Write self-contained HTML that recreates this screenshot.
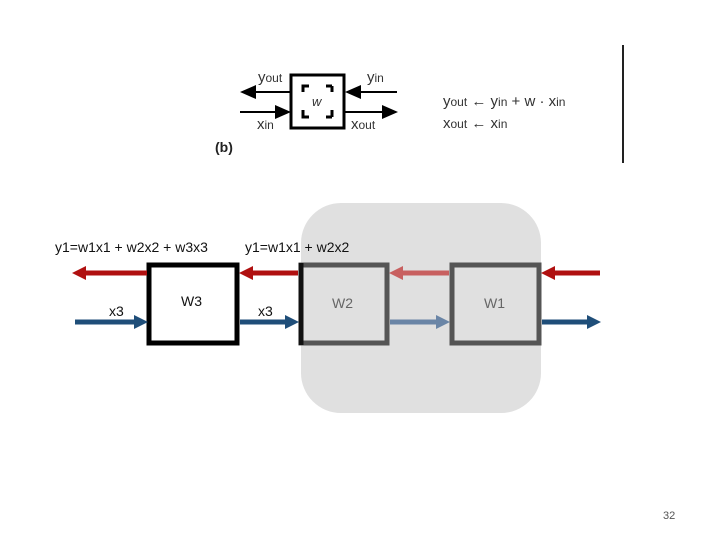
<!DOCTYPE html>
<html><head><style>
body{margin:0;width:720px;height:540px;background:#fff;overflow:hidden;font-family:"Liberation Sans",sans-serif}
</style></head><body>
<svg width="720" height="540" viewBox="0 0 720 540" xmlns="http://www.w3.org/2000/svg" font-family="Liberation Sans, sans-serif">
<!-- top figure -->
<rect x="291" y="75" width="53" height="53" fill="#fff" stroke="#000" stroke-width="3"/>
<path d="M303,92 v-6 h6 M332,86 h-6 M332,86 v6 M303,110 v7 h6 M332,117 h-6 M332,117 v-7" stroke="#000" stroke-width="3" fill="none"/>
<text x="312" y="106" font-size="13" font-style="italic" fill="#333">w</text>
<line x1="290" y1="92" x2="250" y2="92" stroke="#000" stroke-width="2"/>
<path d="M240,92 L256,85 L256,99 z" fill="#000"/>
<line x1="397" y1="92" x2="355" y2="92" stroke="#000" stroke-width="2"/>
<path d="M345,92 L361,85 L361,99 z" fill="#000"/>
<line x1="240" y1="112" x2="280" y2="112" stroke="#000" stroke-width="2"/>
<path d="M291,112 L275,105 L275,119 z" fill="#000"/>
<line x1="345" y1="112" x2="385" y2="112" stroke="#000" stroke-width="2"/>
<path d="M398,112 L382,105 L382,119 z" fill="#000"/>
<g font-size="15" fill="#333">
<text x="258" y="82">y<tspan font-size="12">out</tspan></text>
<text x="367" y="82">y<tspan font-size="12">in</tspan></text>
<text x="257" y="129">x<tspan font-size="12">in</tspan></text>
<text x="351" y="129">x<tspan font-size="12">out</tspan></text>
<text x="443" y="106">y<tspan font-size="12">out</tspan>  ←  y<tspan font-size="12">in</tspan> + w · x<tspan font-size="12">in</tspan></text>
<text x="443" y="128">x<tspan font-size="12">out</tspan>  ←  x<tspan font-size="12">in</tspan></text>
</g>
<text x="215" y="152" font-size="14" font-weight="bold" fill="#222">(b)</text>
<line x1="623" y1="45" x2="623" y2="163" stroke="#222" stroke-width="2"/>

<!-- bottom -->
<rect x="301" y="203" width="240" height="210" rx="40" fill="#e0e0e0"/>
<rect x="149" y="265" width="88" height="78" fill="#fff" stroke="#000" stroke-width="5"/>
<rect x="301" y="265" width="86" height="78" fill="none" stroke="#555" stroke-width="5"/>
<line x1="301" y1="263" x2="301" y2="345" stroke="#111" stroke-width="5"/>
<rect x="452" y="265" width="87" height="78" fill="none" stroke="#555" stroke-width="5"/>
<g font-size="14" fill="#111">
<text x="55" y="252">y1=w1x1 + w2x2 + w3x3</text>
<text x="245" y="252">y1=w1x1 + w2x2</text>
<text x="109" y="316">x3</text>
<text x="258" y="316">x3</text>
</g>
<text x="181" y="306" font-size="14" fill="#111">W3</text>
<text x="332" y="308" font-size="14" fill="#666">W2</text>
<text x="484" y="308" font-size="14" fill="#666">W1</text>
<g stroke-width="5">
<line x1="147" y1="273" x2="82" y2="273" stroke="#b01010"/>
<line x1="298" y1="273" x2="250" y2="273" stroke="#b01010"/>
<line x1="449" y1="273" x2="400" y2="273" stroke="#c86060"/>
<line x1="600" y1="273" x2="552" y2="273" stroke="#b01010"/>
<line x1="75" y1="322" x2="137" y2="322" stroke="#1f4e79"/>
<line x1="240" y1="322" x2="288" y2="322" stroke="#1f4e79"/>
<line x1="390" y1="322" x2="439" y2="322" stroke="#6a85a6"/>
<line x1="542" y1="322" x2="590" y2="322" stroke="#1f4e79"/>
</g>
<path d="M72,273 L86,266 L86,280 z" fill="#b01010"/>
<path d="M239,273 L253,266 L253,280 z" fill="#b01010"/>
<path d="M389,273 L403,266 L403,280 z" fill="#c86060"/>
<path d="M541,273 L555,266 L555,280 z" fill="#b01010"/>
<path d="M148,322 L134,315 L134,329 z" fill="#1f4e79"/>
<path d="M299,322 L285,315 L285,329 z" fill="#1f4e79"/>
<path d="M450,322 L436,315 L436,329 z" fill="#6a85a6"/>
<path d="M601,322 L587,315 L587,329 z" fill="#1f4e79"/>
<text x="663" y="519" font-size="11" fill="#555">32</text>
</svg>
</body></html>
